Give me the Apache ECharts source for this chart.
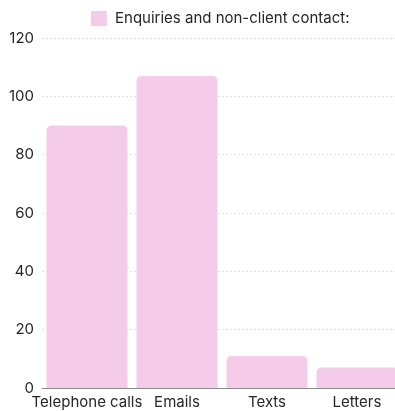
<!DOCTYPE html>
<html>
<head>
<meta charset="utf-8">
<script src="https://cdn.jsdelivr.net/npm/echarts@6/dist/echarts.min.js"></script>
<style>
  html, body { margin: 0; padding: 0; background: #ffffff; }
  #chart { width: 395px; height: 411px; }
</style>
</head>
<body>
<div id="chart"></div>
<script>
// Contact channels and counts
const categories = ['Telephone calls', 'Emails', 'Texts', 'Letters'];
const contactCounts = [90, 107, 11, 7];
const seriesName = 'Enquiries and non-client contact:';
const yTicks = { min: 0, max: 120, interval: 20 };

const pink = '#f4cbe8';
const fontFamily = 'Inter, "Noto Sans", sans-serif';
const textColor = '#262626';

const chart = echarts.init(document.getElementById('chart'));
chart.setOption({
  animation: false,
  backgroundColor: '#ffffff',
  legend: {
    left: 91,
    top: 11,
    padding: 0,
    itemWidth: 16,
    itemHeight: 15,
    itemGap: 10,
    icon: 'rect',
    textStyle: { fontFamily: fontFamily, fontSize: 15, color: textColor, padding: [0, 0, 0, 3] },
    data: [seriesName]
  },
  grid: { left: 42, top: 38, width: 360, bottom: 23, outerBoundsMode: 'none', containLabel: false },
  xAxis: {
    type: 'category',
    data: categories,
    axisLine: { show: true, lineStyle: { color: '#8a8a8a', width: 1 } },
    axisTick: { show: false },
    axisLabel: { fontFamily: fontFamily, fontSize: 15, color: textColor, margin: 7, interval: 0 }
  },
  yAxis: {
    type: 'value',
    min: yTicks.min,
    max: yTicks.max,
    interval: yTicks.interval,
    axisLine: { show: false },
    axisTick: { show: false },
    axisLabel: { fontFamily: fontFamily, fontSize: 15, color: textColor, margin: 8 },
    splitLine: { lineStyle: { color: '#e2e2e2', type: [2, 2], width: 1 } }
  },
  series: [{
    name: seriesName,
    type: 'bar',
    data: contactCounts,
    barCategoryGap: '10%',
    itemStyle: { color: pink, borderRadius: [5, 5, 0, 0] }
  }]
});
</script>
</body>
</html>
